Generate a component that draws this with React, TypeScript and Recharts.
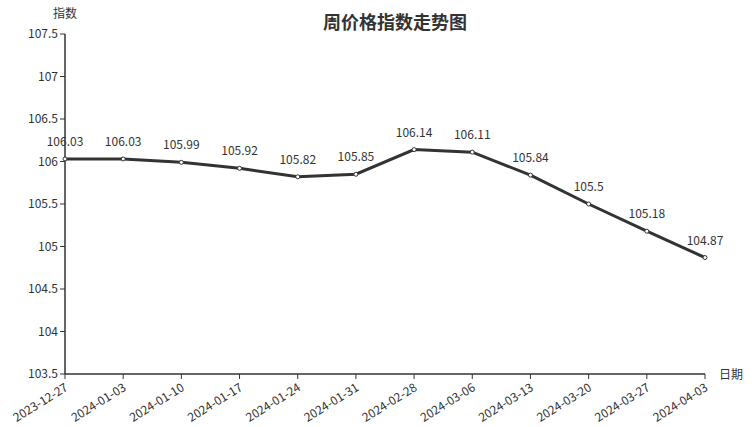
import React from "react";
import { LineChart, Line, XAxis, YAxis, LabelList, Customized } from "recharts";

const dates = ["2023-12-27","2024-01-03","2024-01-10","2024-01-17","2024-01-24","2024-01-31","2024-02-28","2024-03-06","2024-03-13","2024-03-20","2024-03-27","2024-04-03"];
const values = [106.03,106.03,105.99,105.92,105.82,105.85,106.14,106.11,105.84,105.5,105.18,104.87];
const yTicks = [103.5,104,104.5,105,105.5,106,106.5,107,107.5];

const data = dates.map((d, i) => ({ date: d, value: values[i] }));
const FONT = '"Noto Sans CJK SC", "Noto Sans", sans-serif';
const C = "#333";

const XTick = (props: any) => {
  const { x, y, payload } = props;
  const ax = x - 1;
  const ay = y + 1;
  return (
    <text x={ax} y={ay} fill={C} fontSize={12} fontFamily={FONT} textAnchor="end" transform={`rotate(-32, ${ax}, ${ay})`} dy={9}>
      {payload.value}
    </text>
  );
};

const Extras = () => (
  <g fontFamily={FONT}>
    <text x={395} y={29} textAnchor="middle" fontSize={18} fontWeight="bold" fill={C}>周价格指数走势图</text>
    <text x={65} y={18} textAnchor="middle" fontSize={12} fill={C}>指数</text>
    <text x={719} y={379} textAnchor="start" fontSize={12} fill={C}>日期</text>
  </g>
);

export default function App() {
  return (
    <div style={{ position: "absolute", left: 0, top: 0 }}>
      <style>{"body{margin:0}"}</style>
      <LineChart width={752} height={427} data={data} margin={{ top: 34, right: 47, left: 0, bottom: 0 }}>
        <XAxis dataKey="date" tick={<XTick />} tickLine={{ stroke: C }} axisLine={{ stroke: C, strokeWidth: 1.5 }} interval={0} height={53} tickSize={5} padding={{ left: 0, right: 0 }} />
        <YAxis domain={[103.5, 107.5]} ticks={yTicks} tick={{ fill: C, fontSize: 12, fontFamily: FONT }} tickLine={{ stroke: C }} axisLine={{ stroke: C, strokeWidth: 1.5 }} width={65} tickSize={5} interval={0} allowDataOverflow />
        <Line type="linear" dataKey="value" stroke={C} strokeWidth={3} dot={{ r: 2, fill: "#fff", stroke: C, strokeWidth: 1 }} isAnimationActive={false}>
          <LabelList dataKey="value" position="top" offset={13} fill={C} fontSize={12} fontFamily={FONT} />
        </Line>
        <Customized component={Extras} />
      </LineChart>
    </div>
  );
}
